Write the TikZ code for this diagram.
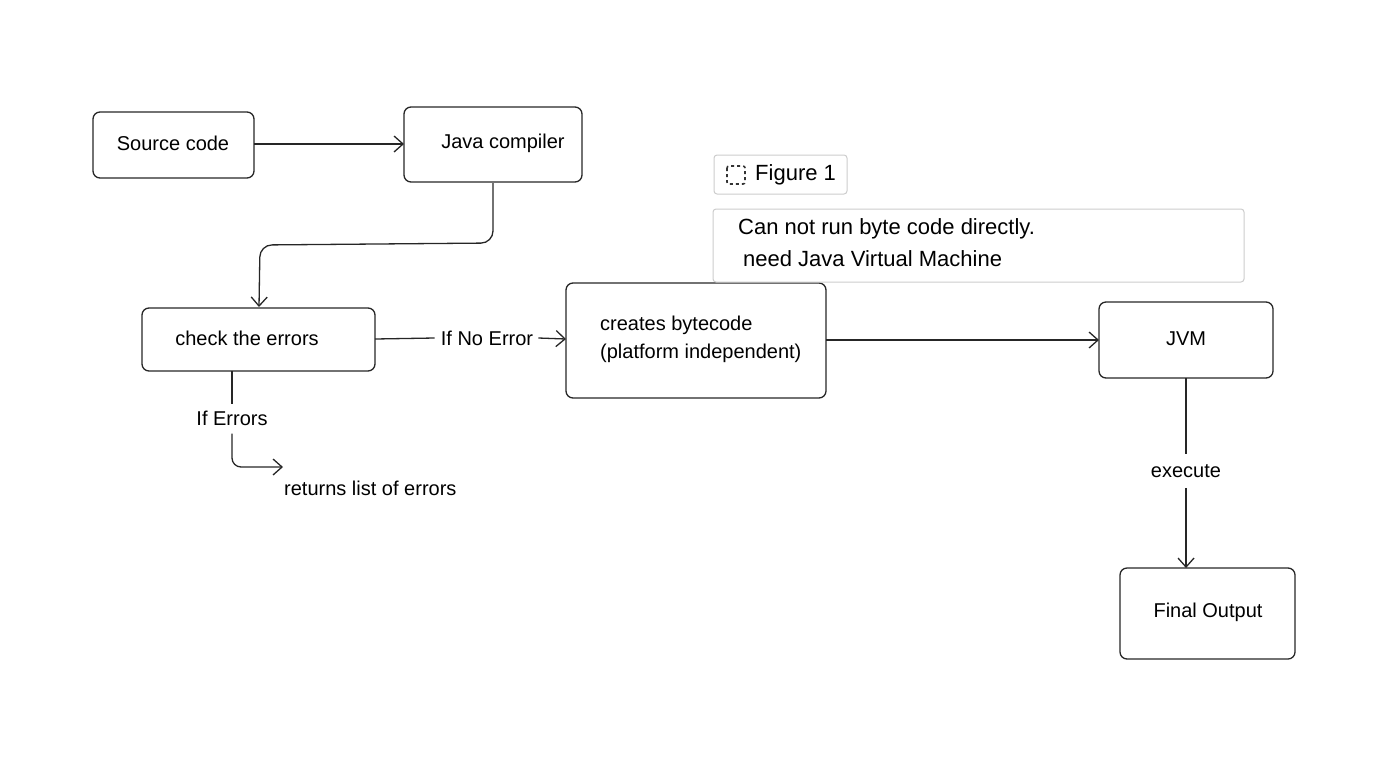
\documentclass[tikz,border=0pt]{standalone}
\usepackage{fontspec}
\setmainfont{Liberation Sans}
\usetikzlibrary{arrows.meta}
\begin{document}
\begin{tikzpicture}[x=1pt,y=-1pt,
  box/.style={draw=black!85,line width=1.3pt,rounded corners=7pt},
  lbl/.style={font=\fontsize{20}{28}\selectfont,inner sep=0pt},
  conn/.style={draw=black!85,line width=1.3pt,-{Straight Barb[length=9pt,width=16pt,line width=1.3pt]}},
  plain/.style={draw=black!85,line width=1.3pt},
  note/.style={draw=black!20,line width=1pt,rounded corners=3pt},
  notetxt/.style={font=\fontsize{22}{26}\selectfont,inner sep=0pt,anchor=west}]
\useasboundingbox (0,0) rectangle (1396,782);
% boxes
\draw[box] (93,112) rectangle (254,178);
\node[lbl] (src) at (173,143) {Source code};
\coordinate (srcR) at (254,144);
\draw[box] (404,107) rectangle (582,182);
\node[lbl] (jc) at (503,143) {Java compiler};
\coordinate (jcL) at (404,144);
\coordinate (jcB) at (493,183);
\draw[box] (142,308) rectangle (375,371);
\node[lbl] (chk) at (247,338) {check the errors};
\coordinate (chkR) at (375,339);
\coordinate (chkB) at (232,371);
\draw[box] (566,283) rectangle (826,398);
\node[lbl,align=left,anchor=west] (bc) at (600,339) {creates bytecode\\(platform independent)};
\coordinate (bcL) at (566,339);
\coordinate (bcR) at (826,340);
\draw[box] (1099,302) rectangle (1273,378);
\node[lbl] (jvm) at (1186,339) {JVM};
\coordinate (jvmL) at (1099,340);
\coordinate (jvmB) at (1186,378);
\draw[box] (1120,568) rectangle (1295,659);
\node[lbl] (fo) at (1208,612) {Final Output};
\coordinate (foT) at (1186,568);
% note and figure label
\draw[note] (714,155) rectangle (847,194);
\draw[black!80,line width=1.6pt,dash pattern=on 3pt off 3pt,rounded corners=2pt] (727,166) rectangle (745,184);
\node[notetxt] (fig) at (755,175) {Figure 1};
\draw[note] (713,209) rectangle (1244,282);
\node[notetxt] (n1) at (738,229) {Can not run byte code directly.};
\node[notetxt] (n2) at (743,259) {need Java Virtual Machine};
% connectors
\draw[conn] (srcR) -- (jcL);
\draw[conn,rounded corners=12pt] (jcB) -- (493,243) -- (260,245) -- (259,307);
\node[lbl] (noerr) at (487,338) {If No Error};
\draw[plain] (chkR) -- ([xshift=-6pt]noerr.west);
\draw[conn] ([xshift=5pt]noerr.east) -- (bcL);
\draw[conn] (bcR) -- (jvmL);
\node[lbl] (exe) at (1186,471) {execute};
\draw[plain] (jvmB) -- ([yshift=10pt]exe.north);
\draw[conn] ([yshift=-10pt]exe.south) -- (foT);
\node[lbl] (ife) at (232,418) {If Errors};
\draw[plain] (chkB) -- ([yshift=6pt]ife.north);
\node[lbl,anchor=west] (ret) at (284,488) {returns list of errors};
\coordinate (retA) at (283,467);
\draw[conn,rounded corners=9pt] ([yshift=-8pt]ife.south) -- (232,467) -- (retA);
\end{tikzpicture}
\end{document}
